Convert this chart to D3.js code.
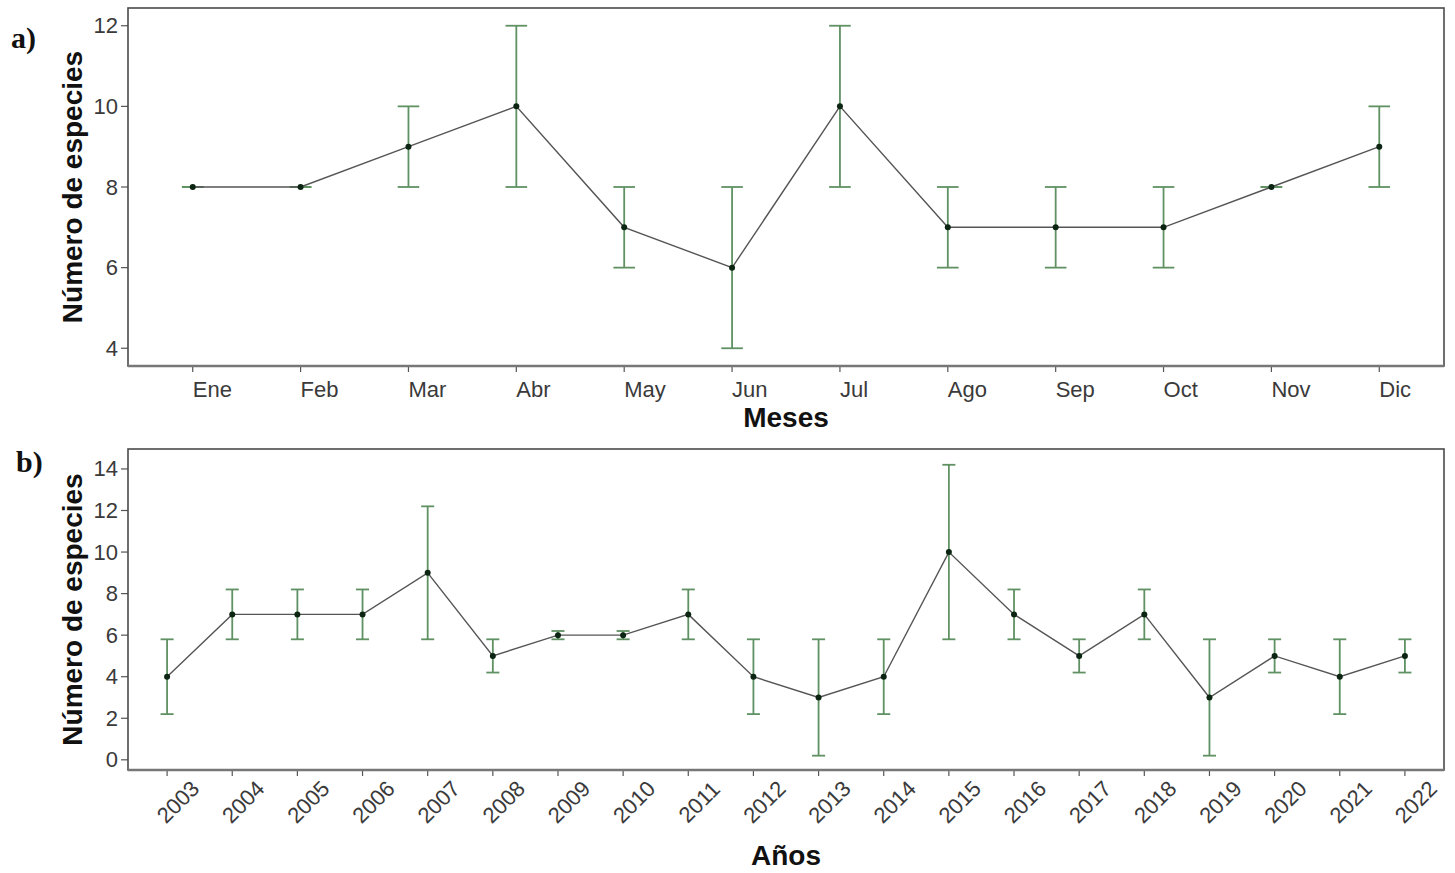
<!DOCTYPE html>
<html>
<head>
<meta charset="utf-8">
<script src="https://cdn.jsdelivr.net/npm/d3@7"></script>
<style>
  body { margin: 0; background: #fff; }
  svg { display: block; }
</style>
</head>
<body>
<div id="chart"></div>
<script>
// panel a: monthly means
const months = ["Ene", "Feb", "Mar", "Abr", "May", "Jun", "Jul", "Ago", "Sep", "Oct", "Nov", "Dic"];
const monthMean = [8, 8, 9, 10, 7, 6, 10, 7, 7, 7, 8, 9];
const monthErr = [0, 0, 1, 2, 1, 2, 2, 1, 1, 1, 0, 1];
const monthTicks = [4, 6, 8, 10, 12];

// panel b: yearly means
const years = ["2003", "2004", "2005", "2006", "2007", "2008", "2009", "2010", "2011", "2012",
  "2013", "2014", "2015", "2016", "2017", "2018", "2019", "2020", "2021", "2022"];
const yearMean = [4, 7, 7, 7, 9, 5, 6, 6, 7, 4, 3, 4, 10, 7, 5, 7, 3, 5, 4, 5];
const yearErr = [1.8, 1.2, 1.2, 1.2, 3.2, 0.8, 0.2, 0.2, 1.2, 1.8, 2.8, 1.8, 4.2, 1.2, 0.8, 1.2, 2.8, 0.8, 1.8, 0.8];
const yearTicks = [0, 2, 4, 6, 8, 10, 12, 14];

const W = 1455, H = 873;
const svg = d3.select("#chart").append("svg")
  .attr("width", W).attr("height", H)
  .style("font-family", "'Liberation Sans', Arial, sans-serif");

const barColor = "#5f9163";

function panel(opts) {
  const { top, bottom, cats, mean, err, yDomain, ticks, tag, tagX, tagY, xTitle, xTitleY, rotate } = opts;
  const left = 128, right = 1444;
  const n = cats.length;

  // discrete axis with ggplot-like 0.6 expansion
  const x = d3.scaleLinear().domain([0.4, n + 0.6]).range([left, right]);
  const y = d3.scaleLinear().domain(yDomain).range([bottom, top]);
  const step = x(2) - x(1);
  const capW = step * 0.2;

  const g = svg.append("g");

  // y axis ticks and labels
  ticks.forEach(t => {
    g.append("line")
      .attr("x1", left - 7).attr("x2", left)
      .attr("y1", y(t)).attr("y2", y(t))
      .attr("stroke", "#555").attr("stroke-width", 1.2);
    g.append("text")
      .attr("x", left - 10).attr("y", y(t))
      .attr("text-anchor", "end").attr("dominant-baseline", "central")
      .attr("font-size", 22).attr("fill", "#3a3a3a")
      .text(t);
  });

  // x axis ticks and labels
  cats.forEach((c, i) => {
    const cx = x(i + 1);
    g.append("line")
      .attr("x1", cx).attr("x2", cx)
      .attr("y1", bottom).attr("y2", bottom + 6)
      .attr("stroke", "#555").attr("stroke-width", 1.2);
    if (rotate) {
      g.append("text")
        .attr("transform", `translate(${cx + 11},${bottom + 32}) rotate(-45)`)
        .attr("text-anchor", "middle").attr("dominant-baseline", "central")
        .attr("font-size", 22).attr("fill", "#3a3a3a")
        .text(c);
    } else {
      g.append("text")
        .attr("x", cx).attr("y", bottom + 31)
        .attr("text-anchor", "start")
        .attr("font-size", 22).attr("fill", "#3a3a3a")
        .text(c);
    }
  });

  // error bars
  const eb = g.selectAll(".eb").data(mean).enter().append("g");
  eb.append("line")
    .attr("x1", (d, i) => x(i + 1)).attr("x2", (d, i) => x(i + 1))
    .attr("y1", (d, i) => y(d - err[i])).attr("y2", (d, i) => y(d + err[i]))
    .attr("stroke", barColor).attr("stroke-width", 1.8);
  [-1, 1].forEach(s => {
    eb.append("line")
      .attr("x1", (d, i) => x(i + 1) - capW / 2).attr("x2", (d, i) => x(i + 1) + capW / 2)
      .attr("y1", (d, i) => y(d + s * err[i])).attr("y2", (d, i) => y(d + s * err[i]))
      .attr("stroke", barColor).attr("stroke-width", 1.8);
  });

  // mean line
  const line = d3.line().x((d, i) => x(i + 1)).y(d => y(d));
  g.append("path").datum(mean)
    .attr("d", line)
    .attr("fill", "none").attr("stroke", "#555").attr("stroke-width", 1.4);

  // points
  g.selectAll(".pt").data(mean).enter().append("circle")
    .attr("cx", (d, i) => x(i + 1)).attr("cy", d => y(d))
    .attr("r", 3).attr("fill", "#0c2412");

  // panel border
  g.append("rect")
    .attr("x", left).attr("y", top)
    .attr("width", right - left).attr("height", bottom - top)
    .attr("fill", "none").attr("stroke", "#4a4a4a").attr("stroke-width", 1.6);
  g.append("line")
    .attr("x1", left).attr("x2", right)
    .attr("y1", bottom).attr("y2", bottom)
    .attr("stroke", "#777").attr("stroke-width", 2.6);

  // axis titles
  g.append("text")
    .attr("transform", `translate(82,${(top + bottom) / 2}) rotate(-90)`)
    .attr("text-anchor", "middle")
    .attr("font-size", 28).attr("font-weight", "bold").attr("fill", "#111")
    .text("Número de especies");
  g.append("text")
    .attr("x", (left + right) / 2).attr("y", xTitleY)
    .attr("text-anchor", "middle")
    .attr("font-size", 28).attr("font-weight", "bold").attr("fill", "#111")
    .text(xTitle);

  // panel tag
  g.append("text")
    .attr("x", tagX).attr("y", tagY)
    .attr("font-family", "'Liberation Serif', 'DejaVu Serif', serif")
    .attr("font-size", 30).attr("font-weight", "bold").attr("fill", "#111")
    .text(tag);
}

panel({
  top: 8, bottom: 366, cats: months, mean: monthMean, err: monthErr,
  yDomain: [3.56, 12.44], ticks: monthTicks,
  tag: "a)", tagX: 11, tagY: 48, xTitle: "Meses", xTitleY: 427, rotate: false
});

panel({
  top: 449, bottom: 770, cats: years, mean: yearMean, err: yearErr,
  yDomain: [-0.49, 14.96], ticks: yearTicks,
  tag: "b)", tagX: 16, tagY: 472, xTitle: "Años", xTitleY: 865, rotate: true
});
</script>
</body>
</html>
